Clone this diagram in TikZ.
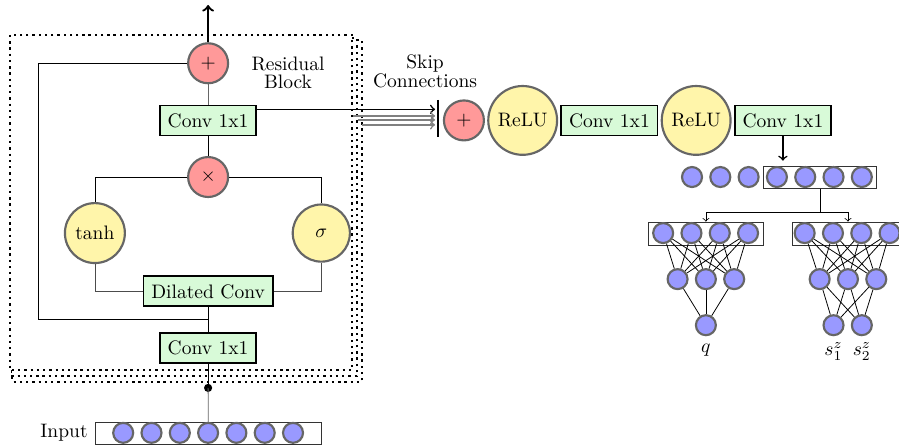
\documentclass[tikz,border=0pt]{standalone}
\usetikzlibrary{positioning}
\definecolor{addrot}{RGB}{255,153,153}
\definecolor{aktgelb}{RGB}{255,245,170}
\definecolor{convgruen}{RGB}{216,250,216}
\definecolor{neuronblau}{RGB}{153,153,255}
\tikzset{
	conv/.style={draw,line width=0.9pt,fill=convgruen,inner sep=4pt,minimum height=0.54cm},
	addop/.style={circle,draw=black!60,line width=1.1pt,fill=addrot,minimum size=0.72cm,inner sep=0pt},
	akt/.style={circle,draw=black!60,line width=1.1pt,fill=aktgelb,inner sep=1pt},
	neuron/.style={circle,draw=black!60,line width=1.1pt,fill=neuronblau,minimum size=0.36cm,inner sep=0pt},
	rahmen/.style={draw,dotted,line width=1.2pt,fill=white},
	schicht/.style={draw=black!80,minimum height=0.41cm},
	ausgtext/.style={inner sep=1pt}
}
\begin{document}
\begin{tikzpicture}
	\useasboundingbox (0,0) rectangle (16.2,8.02);
	% Rahmen Residual Block (gestapelt)
	\draw[rahmen] (0.22,7.30) rectangle (6.52,1.14);
	\draw[rahmen] (0.22,7.33) rectangle (6.43,1.24);
	\draw[rahmen] (0.18,7.39) rectangle (6.34,1.35);
	% Knoten im Block
	\node[addop] (plus) at (3.75,6.88) {$+$};
	\node[conv] (convoben) at (3.75,5.85) {Conv 1x1};
	\node[addop] (mal) at (3.75,4.83) {$\times$};
	\node[akt,minimum size=1.08cm] (tanh) at (1.71,3.82) {tanh};
	\node[akt,minimum size=1.03cm] (sig) at (5.79,3.82) {$\sigma$};
	\node[conv] (dil) at (3.75,2.77) {Dilated Conv};
	\node[conv] (convunten) at (3.75,1.75) {Conv 1x1};
	\node[align=center] (restext) at (5.19,6.71) {Residual\\[-3pt]Block};
	% Hilfspunkte
	\coordinate (ausgang) at (3.75,7.93);
	\coordinate (reslinks) at (0.685,2.27);
	\coordinate (resknick) at (3.75,2.27);
	\coordinate (punkt) at (3.75,1.03);
	% Verbindungen im Block
	\draw[line width=1.2pt,->] (plus) -- (ausgang);
	\draw[black!60] (plus) -- (convoben);
	\draw (convoben) -- (mal);
	\draw (mal) -| (tanh);
	\draw (mal) -| (sig);
	\draw[black!70] (tanh) |- (dil);
	\draw[black!70] (sig) |- (dil);
	\draw (dil) -- (convunten);
	\draw (plus) -| (reslinks) -- (resknick);
	\draw (convunten) -- (punkt);
	\fill (punkt) circle (2.1pt);
	% Eingabe
	\node[schicht,minimum width=4.09cm,minimum height=0.39cm] (inbox) at (3.755,0.215) {};
	\node[left=0pt of inbox] (intext) {Input};
	\foreach \i in {0,...,6}
		\node[neuron] (in\i) at ({2.22+0.51*\i},0.22) {};
	\draw[black!60] (punkt) -- (inbox);
	% Skip Connections
	\coordinate (skipende) at (7.84,6.05);
	\draw[thick,->] (convoben.east |- skipende) -- (skipende);
	\foreach \x/\y/\n in {6.36/5.93/1,6.45/5.86/2,6.52/5.77/3}{
		\coordinate (gstart\n) at (\x,\y);
		\coordinate (gende\n) at (7.84,\y);
		\draw[gray,thick,->] (gstart\n) -- (gende\n);
	}
	\coordinate (balkenoben) at (7.89,6.22);
	\coordinate (balkenunten) at (7.89,5.55);
	\draw[line width=1pt] (balkenoben) -- (balkenunten);
	\node[align=center] (skiptext) at (7.66,6.73) {Skip\\[-2.5pt]Connections};
	% Ausgabe-Kette
	\node[addop] (plus2) at (8.36,5.85) {$+$};
	\node[akt,minimum size=1.24cm,right=0.04cm of plus2] (relu1) {ReLU};
	\node[conv,right=0.04cm of relu1] (conv2) {Conv 1x1};
	\node[akt,minimum size=1.24cm,right=0.04cm of conv2] (relu2) {ReLU};
	\node[conv,right=0.04cm of relu2] (conv3) {Conv 1x1};
	\coordinate[below=0.44cm of conv3] (pfeilende);
	\draw[thick,->] (conv3) -- (pfeilende);
	% Zeile
	\node[schicht,minimum width=2.05cm,minimum height=0.40cm] (zbox) at (14.775,4.83) {};
	\foreach \i in {0,...,6}
		\node[neuron] (z\i) at ({12.47+0.51*\i},4.83) {};
	\coordinate (verzweig) at (14.775,4.20);
	% Netz q
	\node[schicht,minimum width=2.06cm,minimum height=0.42cm] (qbox) at (12.72,3.81) {};
	\foreach \i in {0,...,3}
		\node[neuron] (q\i) at ({11.95+0.51*\i},3.82) {};
	\foreach \i in {0,...,2}
		\node[neuron] (qh\i) at ({12.21+0.51*\i},2.99) {};
	\node[neuron] (qo) at (12.72,2.16) {};
	\node[ausgtext,below=3pt of qo] (qtext) {$q$};
	\foreach \i in {0,...,3}
		\foreach \j in {0,...,2}
			\draw (q\i) -- (qh\j);
	\foreach \j in {0,...,2}
		\draw (qh\j) -- (qo);
	% Netz s
	\node[schicht,minimum width=2.02cm,minimum height=0.42cm] (sbox) at (15.28,3.81) {};
	\foreach \i in {0,...,3}
		\node[neuron] (s\i) at ({14.50+0.51*\i},3.82) {};
	\foreach \i in {0,...,2}
		\node[neuron] (sh\i) at ({14.77+0.51*\i},2.99) {};
	\node[neuron] (so1) at (15.02,2.16) {};
	\node[neuron] (so2) at (15.53,2.16) {};
	\node[ausgtext,below=2pt of so1] (s1text) {$s^z_1$};
	\node[ausgtext,below=2pt of so2] (s2text) {$s^z_2$};
	\foreach \i in {0,...,3}
		\foreach \j in {0,...,2}
			\draw (s\i) -- (sh\j);
	\foreach \j in {0,...,2}
		\foreach \k in {1,2}
			\draw (sh\j) -- (so\k);
	% Verzweigung
	\draw[->] (zbox) -- (verzweig) -| (qbox);
	\draw[->] (verzweig) -| (sbox);
\end{tikzpicture}
\end{document}
